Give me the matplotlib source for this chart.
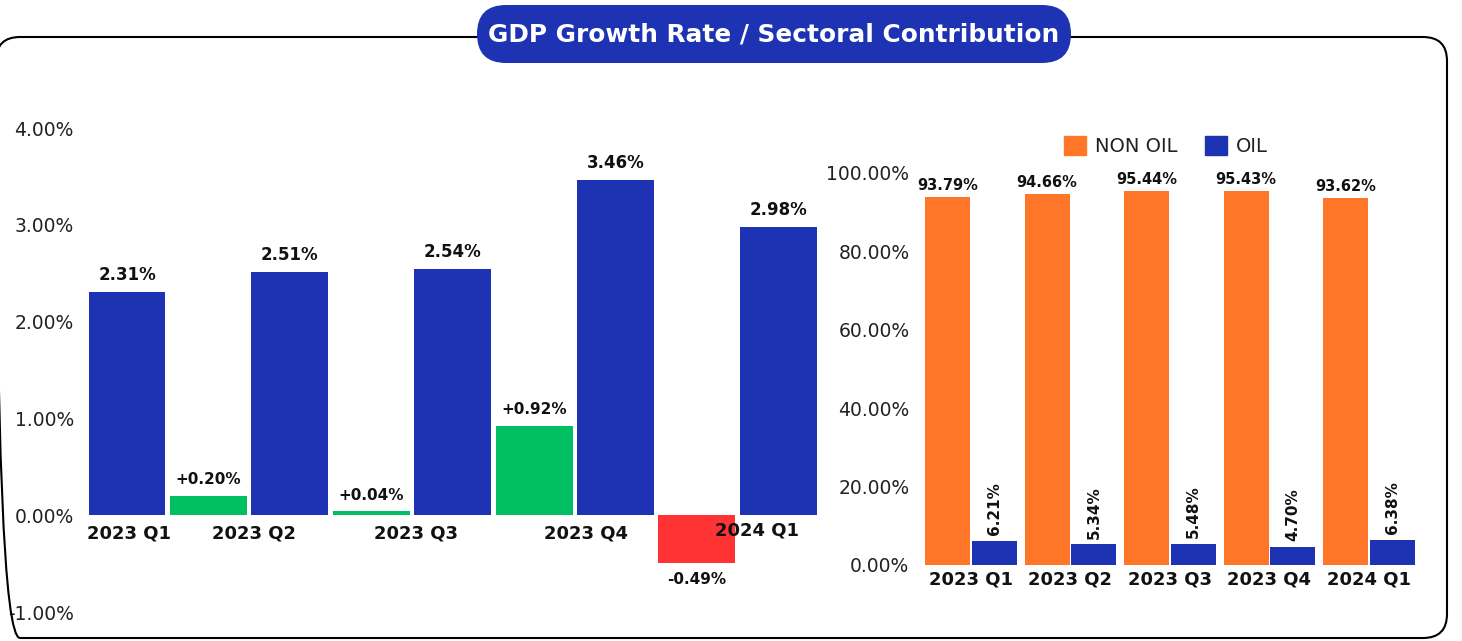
import matplotlib
matplotlib.use('Agg')
import matplotlib.pyplot as plt
from matplotlib.patches import FancyBboxPatch, Patch
from matplotlib.transforms import IdentityTransform
import numpy as np

# ---------------- data ----------------
title = "GDP Growth Rate / Sectoral Contribution"
quarters = ["2023 Q1", "2023 Q2", "2023 Q3", "2023 Q4", "2024 Q1"]
gdp_growth = [2.31, 2.51, 2.54, 3.46, 2.98]
growth_change = [0.20, 0.04, 0.92, -0.49]
non_oil = [93.79, 94.66, 95.44, 95.43, 93.62]
oil = [6.21, 5.34, 5.48, 4.70, 6.38]
left_yticks = [-1, 0, 1, 2, 3, 4]
right_yticks = [0, 20, 40, 60, 80, 100]
legend_labels = ["NON OIL", "OIL"]

# ---------------- style ----------------
BLUE = "#1D33B3"
GREEN = "#00BF63"
RED = "#FF3333"
ORANGE = "#FF7629"
TXT = "#111111"
TICK = "#222222"

plt.rcParams['font.family'] = ['DejaVu Sans']

W, H, DPI = 1462, 641, 100
fig = plt.figure(figsize=(W / DPI, H / DPI), dpi=DPI)
fig.patch.set_facecolor('white')


def px_axes(l, r, top, bottom):
    return fig.add_axes([l / W, (H - bottom) / H, (r - l) / W, (bottom - top) / H])


# ---------------- left chart ----------------
ax1 = px_axes(86.3, 819, 128, 612)
vals, colors, kinds = [], [], []
for i, g in enumerate(gdp_growth):
    vals.append(g); colors.append(BLUE); kinds.append('gdp')
    if i < len(growth_change):
        c = growth_change[i]
        vals.append(c); colors.append(GREEN if c >= 0 else RED); kinds.append('chg')
xs = np.arange(len(vals))
ax1.bar(xs, vals, width=0.945, color=colors, edgecolor='none', zorder=2)

for xv, v, k in zip(xs, vals, kinds):
    if k == 'gdp':
        ax1.annotate(f"{v:.2f}%", (xv, v), xytext=(0, 8.6), textcoords='offset points',
                     ha='center', va='baseline', fontsize=12, fontweight='bold', color=TXT)
    elif v >= 0:
        ax1.annotate(f"{v:+.2f}%", (xv, v), xytext=(0, 8.5), textcoords='offset points',
                     ha='center', va='baseline', fontsize=11, fontweight='bold', color=TXT)
    else:
        ax1.annotate(f"{v:+.2f}%", (xv, v), xytext=(0, -7), textcoords='offset points',
                     ha='center', va='top', fontsize=11, fontweight='bold', color=TXT)

label_pos = [0.02, 1.56, 3.55, 5.64, 7.74]
label_off = [-6.5, -6.5, -6.5, -6.5, -4.5]
for p, q, o in zip(label_pos, quarters, label_off):
    ax1.annotate(q, (p, 0), xytext=(0, o), textcoords='offset points', ha='center',
                 va='top', fontsize=13, fontweight='bold', color=TXT, zorder=5)

ax1.set_xlim(-0.5, 8.5)
ax1.set_ylim(-1, 4)
ax1.set_xticks([])
ax1.set_yticks(left_yticks, [f"{t:.2f}%" for t in left_yticks])
ax1.tick_params(axis='y', length=0, pad=9, labelsize=13.5, labelcolor=TICK)
for s in ax1.spines.values():
    s.set_visible(False)
ax1.patch.set_alpha(0)

# ---------------- right chart ----------------
ax2 = px_axes(915, 1420, 173, 565)
gx = np.arange(len(quarters))
off, bw = 0.236, 0.452
ax2.bar(gx - off, non_oil, width=bw, color=ORANGE, edgecolor='none', zorder=2)
ax2.bar(gx + off, oil, width=bw, color=BLUE, edgecolor='none', zorder=2)
for xv, v in zip(gx - off, non_oil):
    ax2.annotate(f"{v:.2f}%", (xv, v), xytext=(0, 5), textcoords='offset points',
                 ha='center', va='baseline', fontsize=10.5, fontweight='bold', color=TXT)
for xv, v in zip(gx + off, oil):
    ax2.annotate(f"{v:.2f}%", (xv, v), xytext=(0, 4), textcoords='offset points',
                 ha='center', va='bottom', rotation=90, fontsize=11, fontweight='bold', color=TXT)

ax2.set_xlim(-0.5628, 4.5126)
ax2.set_ylim(0, 100)
ax2.set_xticks(gx, quarters)
ax2.set_yticks(right_yticks, [f"{t:.2f}%" for t in right_yticks])
ax2.tick_params(axis='y', length=0, pad=4, labelsize=13.5, labelcolor=TICK)
ax2.tick_params(axis='x', length=0, pad=4, labelsize=13, labelcolor=TXT)
for t in ax2.get_xticklabels():
    t.set_fontweight('bold')
for s in ax2.spines.values():
    s.set_visible(False)
ax2.patch.set_alpha(0)

handles = [Patch(color=ORANGE, label=legend_labels[0]), Patch(color=BLUE, label=legend_labels[1])]
leg = ax2.legend(handles=handles, loc='center', bbox_to_anchor=(0.497, 1.069), ncol=2,
                 frameon=False, fontsize=14, handlelength=1.15, handleheight=1.15,
                 handletextpad=0.45, columnspacing=1.4, borderaxespad=0, borderpad=0)
for t in leg.get_texts():
    t.set_color(TICK)

# ---------------- frame & title pill ----------------
frame = FancyBboxPatch((-4, 3), 1451, 601, boxstyle="round,pad=0,rounding_size=24",
                       fc='none', ec='black', lw=1.5, transform=IdentityTransform(), zorder=1)
fig.add_artist(frame)
pill = FancyBboxPatch((477, 578), 594, 58, boxstyle="round,pad=0,rounding_size=29",
                      fc=BLUE, ec='none', transform=IdentityTransform(), zorder=5)
fig.add_artist(pill)
tt = fig.text(774 / W, (H - 35) / H, title, color='white', fontweight='bold',
              ha='center', va='center', fontsize=17, zorder=6)
r = fig.canvas.get_renderer()
wpx = tt.get_window_extent(r).width
tt.set_fontsize(17 * 570 / wpx)

fig.savefig("out.png", dpi=DPI)
